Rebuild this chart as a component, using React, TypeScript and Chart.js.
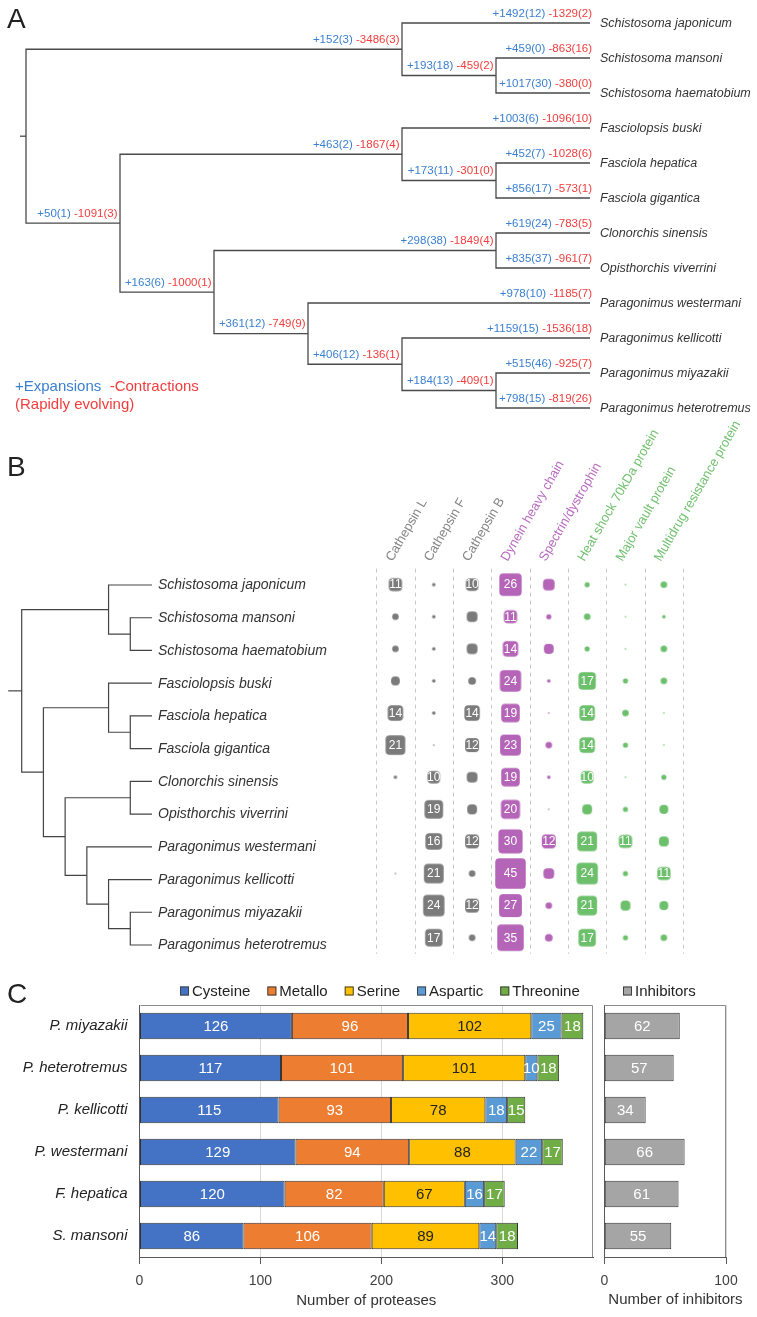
import React, { useEffect, useRef } from 'react';
import { Chart, registerables } from 'chart.js';

Chart.register(...registerables);

const FONT = "'Liberation Sans', Arial, Helvetica, sans-serif";
const BLUE = '#3a7fd0';
const RED = '#f23c3c';

// ---------------- Panel A / B : species tree ----------------
const speciesNames = [
  'Schistosoma japonicum', 'Schistosoma mansoni', 'Schistosoma haematobium',
  'Fasciolopsis buski', 'Fasciola hepatica', 'Fasciola gigantica',
  'Clonorchis sinensis', 'Opisthorchis viverrini', 'Paragonimus westermani',
  'Paragonimus kellicotti', 'Paragonimus miyazakii', 'Paragonimus heterotremus',
];
// topology, by leaf index
const treeTopology: any = [[0, [1, 2]], [[3, [4, 5]], [[6, 7], [8, [9, [10, 11]]]]]];

// terminal branches (leaf order)
const leafExpansions = [1492, 459, 1017, 1003, 452, 856, 619, 835, 978, 1159, 515, 798];
const leafExpansionsRapid = [12, 0, 30, 6, 7, 17, 24, 37, 10, 15, 46, 15];
const leafContractions = [1329, 863, 380, 1096, 1028, 573, 783, 961, 1185, 1536, 925, 819];
const leafContractionsRapid = [2, 16, 0, 10, 6, 1, 5, 7, 7, 18, 7, 26];
// internal branches (pre-order, root excluded)
const nodeExpansions = [152, 193, 50, 463, 173, 163, 298, 361, 406, 184];
const nodeExpansionsRapid = [3, 18, 1, 2, 11, 6, 38, 12, 12, 13];
const nodeContractions = [3486, 459, 1091, 1867, 301, 1000, 1849, 749, 136, 409];
const nodeContractionsRapid = [3, 2, 3, 4, 0, 1, 4, 9, 1, 1];

// ---------------- Panel B : gene family sizes ----------------
const familyNames = [
  'Cathepsin L', 'Cathepsin F', 'Cathepsin B', 'Dynein heavy chain',
  'Spectrin/dystrophin', 'Heat shock 70kDa protein', 'Major vault protein',
  'Multidrug resistance protein',
];
const familyGroups = ['protease', 'protease', 'protease', 'motor', 'motor', 'stress', 'stress', 'stress'];
const cathepsinL = [11, 4, 4, 6, 14, 21, 2, null, null, 1, null, null];
const cathepsinF = [2, 2, 2, 2, 2, 1, 10, 19, 16, 21, 24, 17];
const cathepsinB = [10, 8, 8, 5, 14, 12, 8, 7, 12, 4, 12, 4];
const dyneinHeavyChain = [26, 11, 14, 24, 19, 23, 19, 20, 30, 45, 27, 35];
const spectrinDystrophin = [9, 3, 7, 2, 1, 4, 2, 1, 12, 8, 4, 5];
const heatShock70 = [3, 4, 3, 17, 14, 14, 10, 7, 21, 24, 21, 17];
const majorVault = [1, 1, 1, 3, 4, 3, 1, 3, 11, 3, 7, 3];
const multidrugResistance = [4, 2, 4, 4, 1, 1, 3, 6, 7, 11, 6, 4];

const CELL_COLORS: any = { protease: '#7b7b7b', motor: '#b565b8', stress: '#6cbf6b' };
const HEAD_COLORS: any = { protease: '#858585', motor: '#b86abf', stress: '#71c06f' };

// ---------------- Panel C : proteases ----------------
const hostSpecies = ['P. miyazakii', 'P. heterotremus', 'P. kellicotti', 'P. westermani', 'F. hepatica', 'S. mansoni'];
const cysteine = [126, 117, 115, 129, 120, 86];
const metallo = [96, 101, 93, 94, 82, 106];
const serine = [102, 101, 78, 88, 67, 89];
const aspartic = [25, 10, 18, 22, 16, 14];
const threonine = [18, 18, 15, 17, 17, 18];
const inhibitors = [62, 57, 34, 66, 61, 55];

// ---------------- tree layout helpers ----------------
function layoutTree(t: any): any {
  if (typeof t === 'number') return { leaf: t, x: 0, y: t, h: 0, children: [] };
  const children = t.map(layoutTree);
  const h = Math.max(...children.map((c: any) => c.h)) + 1;
  const y = (children[0].y + children[children.length - 1].y) / 2;
  return { leaf: -1, x: 0, y, h, children };
}
function assignX(n: any, rootH: number) {
  n.x = rootH - n.h;
  n.children.forEach((c: any) => assignX(c, rootH));
}
function preorder(n: any, out: any[] = []) {
  out.push(n);
  n.children.forEach((c: any) => preorder(c, out));
  return out;
}
const treeRoot = layoutTree(treeTopology);
assignX(treeRoot, treeRoot.h);
const treeNodes = preorder(treeRoot);

function branchDatasets(stub: number, color: string, width: number) {
  const mk = (pts: any[]) => ({
    data: pts, showLine: true, borderColor: color, borderWidth: width,
    pointRadius: 0, clip: false, tension: 0, fill: false, borderJoinStyle: 'miter',
  });
  const sets: any[] = [mk([{ x: treeRoot.x - stub, y: treeRoot.y }, { x: treeRoot.x, y: treeRoot.y }])];
  treeNodes.forEach((n: any) => {
    if (!n.children.length) return;
    const first = n.children[0];
    const last = n.children[n.children.length - 1];
    sets.push(mk([
      { x: first.x, y: first.y }, { x: n.x, y: first.y },
      { x: n.x, y: last.y }, { x: last.x, y: last.y },
    ]));
    n.children.slice(1, -1).forEach((c: any) => sets.push(mk([{ x: n.x, y: c.y }, { x: c.x, y: c.y }])));
  });
  return sets;
}

const treeAPlugin = {
  id: 'treeA',
  afterDraw(chart: any) {
    const { ctx, scales: { x, y } } = chart;
    ctx.save();
    ctx.textAlign = 'left';
    ctx.fillStyle = '#222';
    ctx.font = `28px ${FONT}`;
    ctx.textBaseline = 'alphabetic';
    ctx.fillText('A', 7, 28);

    // branch labels
    ctx.font = `11.5px ${FONT}`;
    ctx.textBaseline = 'middle';
    let k = 0;
    treeNodes.forEach((n: any) => {
      if (n === treeRoot) return;
      const isLeaf = n.leaf >= 0;
      let e, er, c, cr;
      if (isLeaf) {
        e = leafExpansions[n.leaf]; er = leafExpansionsRapid[n.leaf];
        c = leafContractions[n.leaf]; cr = leafContractionsRapid[n.leaf];
      } else {
        e = nodeExpansions[k]; er = nodeExpansionsRapid[k];
        c = nodeContractions[k]; cr = nodeContractionsRapid[k];
        k++;
      }
      const plus = `+${e}(${er})`;
      const minus = `-${c}(${cr})`;
      const px = x.getPixelForValue(n.x);
      const py = y.getPixelForValue(n.y);
      const right = px + (isLeaf ? 2 : -2.5);
      const wm = ctx.measureText(minus).width;
      const ws = ctx.measureText(' ').width;
      const wp = ctx.measureText(plus).width;
      ctx.fillStyle = RED;
      ctx.fillText(minus, right - wm, py - 9.5);
      ctx.fillStyle = BLUE;
      ctx.fillText(plus, right - wm - ws - wp, py - 9.5);
    });

    // leaf names
    ctx.font = `italic 12.5px ${FONT}`;
    ctx.fillStyle = '#333';
    treeNodes.forEach((n: any) => {
      if (n.leaf < 0) return;
      ctx.fillText(speciesNames[n.leaf], x.getPixelForValue(n.x) + 10, y.getPixelForValue(n.y) + 1);
    });

    // legend
    ctx.font = `15px ${FONT}`;
    ctx.textBaseline = 'alphabetic';
    ctx.fillStyle = BLUE;
    ctx.fillText('+Expansions', 15, 390.5);
    const w1 = ctx.measureText('+Expansions  ').width;
    ctx.fillStyle = RED;
    ctx.fillText('-Contractions', 15 + w1, 390.5);
    ctx.fillText('(Rapidly evolving)', 15, 408.5);
    ctx.restore();
  },
};

const treeBPlugin = {
  id: 'treeB',
  afterDraw(chart: any) {
    const { ctx, scales: { x, y } } = chart;
    ctx.save();
    ctx.textAlign = 'left';
    ctx.fillStyle = '#222';
    ctx.font = `28px ${FONT}`;
    ctx.textBaseline = 'alphabetic';
    ctx.fillText('B', 7, 56);
    ctx.font = `italic 14px ${FONT}`;
    ctx.fillStyle = '#333';
    ctx.textBaseline = 'middle';
    treeNodes.forEach((n: any) => {
      if (n.leaf < 0) return;
      ctx.fillText(speciesNames[n.leaf], x.getPixelForValue(n.x) + 6, y.getPixelForValue(n.y) + 0.5);
    });
    ctx.restore();
  },
};

// ---------------- matrix helpers ----------------
function cellSide(v: number) {
  return Math.max(1.6, 5.1 * Math.sqrt(v) - 3.7);
}
const cellCache = new Map<string, HTMLCanvasElement>();
function cellImage(v: number, color: string) {
  const key = color + '_' + v;
  const hit = cellCache.get(key);
  if (hit) return hit;
  const side = cellSide(v);
  const size = Math.ceil(side) + 2;
  const c = document.createElement('canvas');
  c.width = size;
  c.height = size;
  const g = c.getContext('2d') as CanvasRenderingContext2D;
  const o = (size - side) / 2;
  g.fillStyle = color;
  g.beginPath();
  (g as any).roundRect(o, o, side, side, Math.min(side / 2, 4));
  g.fill();
  cellCache.set(key, c);
  return c;
}

const matrixPlugin = {
  id: 'matrixDecor',
  beforeDatasetsDraw(chart: any) {
    const { ctx, chartArea: a, scales: { x } } = chart;
    ctx.save();
    ctx.strokeStyle = '#c8c8c8';
    ctx.lineWidth = 1;
    ctx.setLineDash([4, 4]);
    for (let i = 0; i <= familyNames.length; i++) {
      const px = Math.round(x.getPixelForValue(i)) + 0.5;
      ctx.beginPath();
      ctx.moveTo(px, a.top);
      ctx.lineTo(px, a.bottom);
      ctx.stroke();
    }
    ctx.restore();
  },
  afterDatasetsDraw(chart: any) {
    const { ctx } = chart;
    ctx.save();
    ctx.font = `12px ${FONT}`;
    ctx.fillStyle = '#fff';
    ctx.textAlign = 'center';
    ctx.textBaseline = 'middle';
    chart.data.datasets.forEach((ds: any, di: number) => {
      const meta = chart.getDatasetMeta(di);
      meta.data.forEach((el: any, j: number) => {
        const v = ds.data[j].v;
        if (v >= 10) ctx.fillText(String(v), el.x, el.y + 0.5);
      });
    });
    ctx.restore();
  },
  afterDraw(chart: any) {
    const { ctx, chartArea: a, scales: { x } } = chart;
    ctx.save();
    ctx.font = `13px ${FONT}`;
    ctx.textAlign = 'left';
    ctx.textBaseline = 'alphabetic';
    familyNames.forEach((name, i) => {
      ctx.save();
      ctx.translate(x.getPixelForValue(i + 0.5) - 3, a.top - 6.5);
      ctx.rotate(-Math.PI / 3);
      ctx.fillStyle = HEAD_COLORS[familyGroups[i]];
      ctx.fillText(name, 0, 0);
      ctx.restore();
    });
    ctx.restore();
  },
};

// ---------------- panel C helpers ----------------
const barDecorPlugin = {
  id: 'barDecor',
  beforeDatasetsDraw(chart: any) {
    const { ctx, chartArea: a } = chart;
    ctx.save();
    ctx.strokeStyle = '#8c8c8c';
    ctx.lineWidth = 1;
    const l = Math.round(a.left) + 0.5;
    const t = Math.round(a.top) + 0.5;
    const r = Math.round(a.right) - 0.5;
    ctx.beginPath();
    ctx.moveTo(l, t);
    ctx.lineTo(r, t);
    ctx.lineTo(r, Math.round(a.bottom));
    ctx.stroke();
    ctx.restore();
  },
  afterDatasetsDraw(chart: any) {
    const { ctx } = chart;
    ctx.save();
    ctx.font = `15px ${FONT}`;
    ctx.textAlign = 'center';
    ctx.textBaseline = 'middle';
    chart.data.datasets.forEach((ds: any, di: number) => {
      const meta = chart.getDatasetMeta(di);
      ctx.fillStyle = ds.labelColor;
      meta.data.forEach((el: any, j: number) => {
        const p = el.getProps(['x', 'y', 'base'], true);
        ctx.fillText(String(ds.data[j]), (p.x + p.base) / 2, p.y + 1);
      });
    });
    ctx.restore();
  },
  afterDraw(chart: any, _args: any, opts: any) {
    const { ctx, chartArea: a } = chart;
    ctx.save();
    if (opts.letter) {
      ctx.fillStyle = '#222';
      ctx.font = `28px ${FONT}`;
      ctx.textAlign = 'left';
      ctx.textBaseline = 'alphabetic';
      ctx.fillText(opts.letter, 7, 28);
    }
    if (opts.axisTitle) {
      ctx.fillStyle = '#333';
      ctx.font = `15px ${FONT}`;
      ctx.textAlign = 'left';
      ctx.textBaseline = 'middle';
      ctx.fillText(opts.axisTitle, a.left + 4, chart.height - 17);
    }
    ctx.font = `15px ${FONT}`;
    ctx.textAlign = 'left';
    ctx.textBaseline = 'middle';
    let xp = opts.legendX;
    const yc = 16;
    chart.data.datasets.forEach((ds: any) => {
      ctx.fillStyle = ds.backgroundColor;
      ctx.fillRect(xp, yc - 4.5, 9, 9);
      ctx.strokeStyle = '#404040';
      ctx.lineWidth = 1;
      ctx.strokeRect(xp + 0.5, yc - 4, 8, 8);
      ctx.fillStyle = '#222';
      ctx.fillText(ds.label, xp + 12, yc + 1);
      xp += 12 + ctx.measureText(ds.label).width + 17;
    });
    ctx.restore();
  },
};

function barDataset(label: string, data: number[], color: string, labelColor: string) {
  return {
    label, data, backgroundColor: color, borderColor: '#333', borderWidth: 1,
    borderSkipped: false, barPercentage: 0.63, categoryPercentage: 1, labelColor,
  };
}

function baseBarOptions(max: number, title: string, padding: any, yWidth: number, showY: boolean, legendX: number, letter: string, customTitle: boolean) {
  return {
    indexAxis: 'y',
    responsive: false,
    animation: false,
    events: [],
    layout: { padding },
    scales: {
      x: {
        stacked: true, min: 0, max,
        afterBuildTicks: (s: any) => { s.ticks = s.ticks.filter((t: any) => t.value % 100 === 0); },
        afterFit: (s: any) => { s.height = 60; },
        ticks: { stepSize: 100, font: { size: 14 }, color: '#404040', padding: 9, maxRotation: 0 },
        grid: { color: '#d9d9d9', tickColor: '#595959', tickLength: 7 },
        border: { color: '#595959' },
        title: { display: !customTitle, text: title, font: { size: 15 }, color: '#333', padding: { top: 0, bottom: 7 } },
      },
      y: {
        stacked: true,
        afterFit: (s: any) => { s.width = yWidth; },
        grid: { display: false, drawTicks: false },
        border: { color: '#595959' },
        ticks: { display: showY, font: { size: 15, style: 'italic' }, color: '#222', padding: 12 },
      },
    },
    plugins: {
      legend: { display: false },
      tooltip: { enabled: false },
      barDecor: { legendX, letter, axisTitle: customTitle ? title : '' },
    },
  };
}

export default function App() {
  const aRef = useRef<HTMLCanvasElement>(null);
  const bRef = useRef<HTMLCanvasElement>(null);
  const mRef = useRef<HTMLCanvasElement>(null);
  const pRef = useRef<HTMLCanvasElement>(null);
  const iRef = useRef<HTMLCanvasElement>(null);

  useEffect(() => {
    Chart.defaults.font.family = FONT;
    const charts: Chart[] = [];

    charts.push(new Chart(aRef.current as HTMLCanvasElement, {
      type: 'scatter',
      data: { datasets: branchDatasets(0.064, '#4a4a4a', 1.3) as any },
      options: {
        responsive: false, animation: false, events: [],
        layout: { padding: { left: 26, right: 167, top: 23, bottom: 17 } },
        scales: {
          x: { type: 'linear', display: false, min: 0, max: treeRoot.h },
          y: { type: 'linear', display: false, min: 0, max: speciesNames.length - 1, reverse: true },
        },
        plugins: { legend: { display: false }, tooltip: { enabled: false } },
      } as any,
      plugins: [treeAPlugin],
    }));

    charts.push(new Chart(bRef.current as HTMLCanvasElement, {
      type: 'scatter',
      data: { datasets: branchDatasets(0.62, '#444', 1.2) as any },
      options: {
        responsive: false, animation: false, events: [],
        layout: { padding: { left: 21.7, right: 208, top: 165, bottom: 25 } },
        scales: {
          x: { type: 'linear', display: false, min: 0, max: treeRoot.h },
          y: { type: 'linear', display: false, min: 0, max: speciesNames.length - 1, reverse: true },
        },
        plugins: { legend: { display: false }, tooltip: { enabled: false } },
      } as any,
      plugins: [treeBPlugin],
    }));

    const columns = [cathepsinL, cathepsinF, cathepsinB, dyneinHeavyChain, spectrinDystrophin, heatShock70, majorVault, multidrugResistance];
    const matrixSets = columns.map((vals, ci) => ({
      label: familyNames[ci],
      data: vals.flatMap((v, ri) => (v == null ? [] : [{ x: ci + 0.5, y: ri, v }])),
      pointStyle: (c: any) => (c.raw ? cellImage(c.raw.v, CELL_COLORS[familyGroups[ci]]) : 'rect'),
      pointRadius: (c: any) => (c.raw ? Math.max(1, cellSide(c.raw.v) / 2) : 3),
    }));
    charts.push(new Chart(mRef.current as HTMLCanvasElement, {
      type: 'scatter',
      data: { datasets: matrixSets as any },
      options: {
        responsive: false, animation: false, events: [],
        layout: { padding: { left: 14, right: 74, top: 148.6, bottom: 8.6 } },
        scales: {
          x: { type: 'linear', display: false, min: 0, max: familyNames.length },
          y: { type: 'linear', display: false, min: -0.5, max: speciesNames.length - 0.5, reverse: true },
        },
        plugins: { legend: { display: false }, tooltip: { enabled: false } },
      } as any,
      plugins: [matrixPlugin],
    }));

    charts.push(new Chart(pRef.current as HTMLCanvasElement, {
      type: 'bar',
      data: {
        labels: hostSpecies,
        datasets: [
          barDataset('Cysteine', cysteine, '#4472c4', '#fff'),
          barDataset('Metallo', metallo, '#ed7d31', '#fff'),
          barDataset('Serine', serine, '#ffc000', '#222'),
          barDataset('Aspartic', aspartic, '#5b9bd5', '#fff'),
          barDataset('Threonine', threonine, '#70ad47', '#fff'),
        ] as any,
      },
      options: baseBarOptions(375, 'Number of proteases', { top: 30, right: 7, left: 0, bottom: 0 }, 139.5, true, 180, 'C', false) as any,
      plugins: [barDecorPlugin],
    }));

    charts.push(new Chart(iRef.current as HTMLCanvasElement, {
      type: 'bar',
      data: {
        labels: hostSpecies,
        datasets: [barDataset('Inhibitors', inhibitors, '#a5a5a5', '#fff')] as any,
      },
      options: baseBarOptions(100, 'Number of inhibitors', { top: 30, right: 31, left: 24.3, bottom: 0 }, 0, false, 43, '', true) as any,
      plugins: [barDecorPlugin],
    }));

    return () => charts.forEach((c) => c.destroy());
  }, []);

  const abs = (left: number, top: number): React.CSSProperties => ({ position: 'absolute', left, top });
  return (
    <div style={{ position: 'absolute', left: 0, top: 0, width: 757, height: 1317, background: '#fff', overflow: 'hidden' }}>
      <canvas ref={aRef} width={757} height={425} style={abs(0, 0)} />
      <canvas ref={bRef} width={360} height={550} style={abs(0, 420)} />
      <canvas ref={mRef} width={397} height={550} style={abs(360, 420)} />
      <canvas ref={pRef} width={600} height={342} style={abs(0, 975)} />
      <canvas ref={iRef} width={177} height={342} style={abs(580, 975)} />
    </div>
  );
}
